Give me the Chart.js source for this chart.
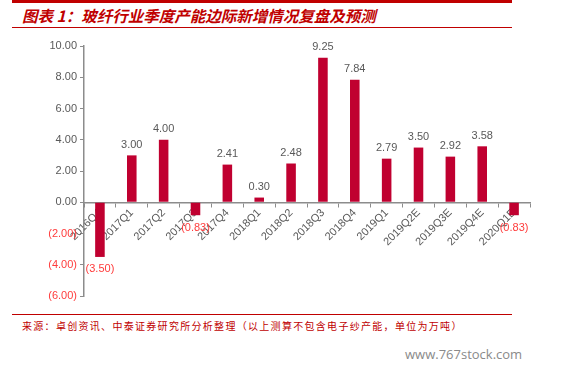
<!DOCTYPE html>
<html>
<head>
<meta charset="utf-8">
<script src="https://cdn.jsdelivr.net/npm/chart.js@4"></script>
<style>
  body { margin: 0; width: 583px; height: 366px; background: #fff; position: relative; overflow: hidden; font-family: "Liberation Sans", Arial, sans-serif; }
  .topline { position: absolute; left: 12px; top: 0; width: 500px; height: 3px; background: #c00000; }
  .title { position: absolute; left: 22px; top: 5px; font-family: "Noto Sans CJK SC", sans-serif; font-size: 15.5px; font-weight: bold; font-style: italic; color: #c00000; line-height: 20px; white-space: nowrap; }
  .titleline { position: absolute; left: 12px; top: 27px; width: 500px; height: 1px; background: #c00000; }
  .srcline { position: absolute; left: 12px; top: 314px; width: 500px; height: 1px; background: #c00000; }
  .source { position: absolute; left: 22px; top: 319px; font-family: "Noto Sans CJK SC", sans-serif; font-size: 10px; letter-spacing: 1.3px; color: #c00000; white-space: nowrap; line-height: 14px; }
  .mark { position: absolute; left: 405px; top: 345px; font-family: "Open Sans", sans-serif; font-size: 13px; color: #8a8a8a; white-space: nowrap; }
  #wrap { position: absolute; left: 0; top: 30px; width: 583px; height: 280px; }
</style>
</head>
<body>
<div class="topline"></div>
<div class="title">图表 1：玻纤行业季度产能边际新增情况复盘及预测</div>
<div class="titleline"></div>
<div id="wrap"><canvas id="chart"></canvas></div>
<div class="srcline"></div>
<div class="source">来源：卓创资讯、中泰证券研究所分析整理（以上测算不包含电子纱产能，单位为万吨）</div>
<div class="mark">www.767stock.com</div>
<script>
// quarterly marginal capacity additions (10k tonnes)
const quarters = ['2016Q4', '2017Q1', '2017Q2', '2017Q3', '2017Q4', '2018Q1', '2018Q2', '2018Q3',
  '2018Q4', '2019Q1', '2019Q2E', '2019Q3E', '2019Q4E', '2020Q1E'];
const additions = [-3.50, 3.00, 4.00, -0.83, 2.41, 0.30, 2.48, 9.25, 7.84, 2.79, 3.50, 2.92, 3.58, -0.83];

const fmt = v => v < 0 ? '(' + Math.abs(v).toFixed(2) + ')' : v.toFixed(2);

// value labels above / below each bar
const barLabels = {
  id: 'barLabels',
  afterDatasetsDraw(chart) {
    const ctx = chart.ctx;
    const meta = chart.getDatasetMeta(0);
    ctx.save();
    ctx.font = '11px "Liberation Sans", Arial, sans-serif';
    ctx.textAlign = 'center';
    meta.data.forEach((bar, i) => {
      const v = additions[i];
      if (v < 0) {
        ctx.fillStyle = '#ff3b3b';
        ctx.textBaseline = 'top';
        ctx.fillText(fmt(v), bar.x, bar.y + 7);
      } else {
        ctx.fillStyle = '#595959';
        ctx.textBaseline = 'bottom';
        ctx.fillText(fmt(v), bar.x, bar.y - 5);
      }
    });
    ctx.restore();
  }
};

new Chart(document.getElementById('chart'), {
  type: 'bar',
  data: {
    labels: quarters,
    datasets: [{
      data: additions,
      backgroundColor: '#c00030',
      barPercentage: 0.6,
      categoryPercentage: 0.5
    }]
  },
  options: {
    responsive: true,
    maintainAspectRatio: false,
    animation: false,
    layout: { padding: { top: 16, bottom: 14, right: 53, left: 0 } },
    plugins: { legend: { display: false }, tooltip: { enabled: false } },
    scales: {
      x: {
        position: { y: 0 },
        grid: { display: true, drawOnChartArea: false, color: '#8c8c8c', tickLength: 4, offset: true },
        border: { color: '#8c8c8c', width: 1.5 },
        ticks: {
          color: '#595959',
          font: { size: 11, family: '"Liberation Sans", Arial, sans-serif' },
          minRotation: 45,
          maxRotation: 45,
          padding: 0,
          autoSkip: false
        }
      },
      y: {
        min: -6,
        max: 10,
        afterFit: s => { s.width = 84; },
        grid: { display: true, drawOnChartArea: false, color: '#8c8c8c', tickLength: 4 },
        border: { color: '#8c8c8c', width: 1.5 },
        ticks: {
          stepSize: 2,
          padding: 3,
          color: c => c.tick.value < 0 ? '#ff3b3b' : '#595959',
          font: { size: 11, family: '"Liberation Sans", Arial, sans-serif' },
          callback: v => fmt(v)
        }
      }
    }
  },
  plugins: [barLabels]
});
</script>
</body>
</html>
